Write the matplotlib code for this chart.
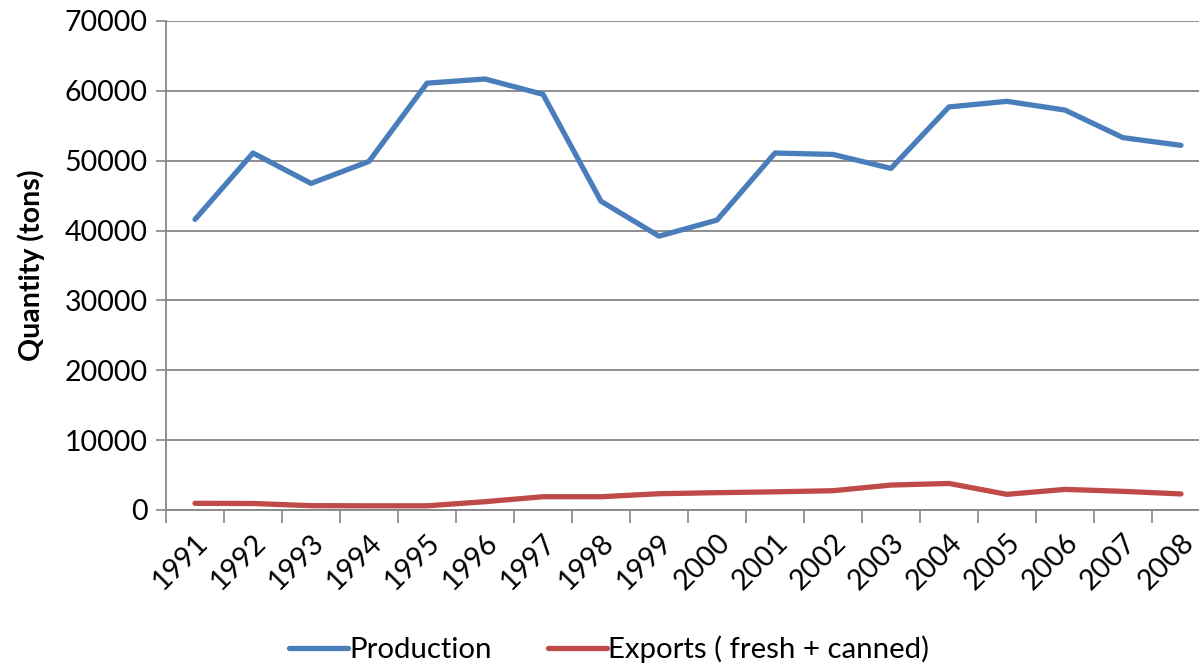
import numpy as np
import matplotlib.pyplot as plt

plt.rcParams['font.family'] = ['Lato', 'DejaVu Sans']

years = [str(y) for y in range(1991, 2009)]
production = [41600, 51100, 46750, 49900, 61100, 61700, 59500, 44200, 39200,
              41500, 51100, 50900, 48900, 57700, 58500, 57250, 53300, 52200]
exports = [960, 930, 620, 600, 600, 1190, 1900, 1900, 2330,
           2480, 2600, 2760, 3570, 3800, 2240, 2950, 2670, 2300]

fig = plt.figure(figsize=(11.99, 6.63), dpi=100)
ax = fig.add_axes([166 / 1199, (663 - 510) / 663, (1210 - 166) / 1199, 489 / 663])

x = np.arange(len(years))
ax.plot(x, production, color='#4A7EBB', lw=3.8, solid_capstyle='round',
        solid_joinstyle='round', label='Production')
ax.plot(x, exports, color='#BE4B48', lw=3.8, solid_capstyle='round',
        solid_joinstyle='round', label='Exports ( fresh + canned)')

ax.set_xlim(-0.5, len(years) - 0.5)
ax.set_ylim(0, 70000)
ax.set_yticks(range(0, 70001, 10000))
ax.tick_params(axis='y', labelsize=20.5, length=7, width=1.2, color='#868686', pad=6)
ax.yaxis.grid(True, color='#868686', lw=1.3)
ax.set_axisbelow(True)

ax.set_xticks(x)
ax.set_xticklabels(years, rotation=45, ha='right', rotation_mode='anchor')
ax.tick_params(axis='x', which='major', length=0, labelsize=20.5, pad=14)
ax.set_xticks(np.arange(-0.5, len(years), 1), minor=True)
ax.tick_params(axis='x', which='minor', length=9, width=1.2, color='#868686')

for s in ['top', 'right']:
    ax.spines[s].set_visible(False)
for s in ['left', 'bottom']:
    ax.spines[s].set_color('#868686')
    ax.spines[s].set_linewidth(1.3)

ax.set_ylabel('Quantity (tons)', fontsize=20.5, fontweight='bold', labelpad=14)

fig.legend(loc='lower center', bbox_to_anchor=(0.508, -0.04), ncol=2, frameon=False,
           fontsize=21.2, handlelength=2.0, handletextpad=0.05, columnspacing=1.9)

fig.savefig('out.png', dpi=100)
